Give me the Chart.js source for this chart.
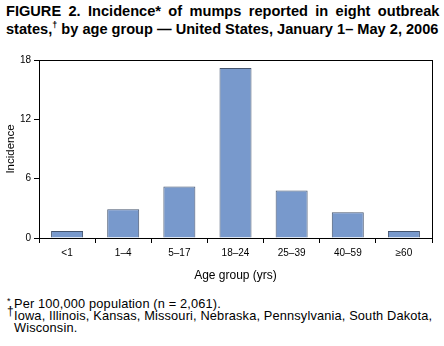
<!DOCTYPE html>
<html lang="en">
<head>
<meta charset="utf-8">
<title>Mumps incidence by age group, 2006</title>
<script src="https://cdn.jsdelivr.net/npm/chart.js@4.4.0/dist/chart.umd.min.js"></script>
<style>
  body{margin:0;width:444px;height:346px;background:#fff;font-family:"Liberation Sans",Arial,Helvetica,sans-serif;color:#000;position:relative;overflow:hidden;}
  #title{position:absolute;left:6px;top:2px;font-weight:bold;font-size:14.6px;line-height:18px;white-space:nowrap;}
  #title .l1{word-spacing:3.3px;}
  #title sup{font-size:9px;line-height:0;}
  #wrap{position:absolute;left:0;top:48px;width:444px;height:240px;}
  .note{position:absolute;left:14px;font-size:12.8px;letter-spacing:0.15px;line-height:12px;white-space:nowrap;}
  .note sup{font-size:9px;position:absolute;left:-7px;top:-3px;}
</style>
</head>
<body>

<div id="title"><span class="l1">FIGURE 2. Incidence* of mumps reported in eight outbreak</span><br>states,<sup>†</sup> by age group — United States, January 1– May 2, 2006</div>

<div id="wrap"><canvas id="chart"></canvas></div>

<div class="note" style="top:298px;"><sup>*</sup>Per 100,000 population (n = 2,061).</div>
<div class="note" style="top:310px;"><sup style="font-size:12px;top:-5px">†</sup>Iowa, Illinois, Kansas, Missouri, Nebraska, Pennsylvania, South Dakota,</div>
<div class="note" style="top:322px;">Wisconsin.</div>

<script>
// age groups and incidence per 100,000
const ageGroups = ['<1', '1–4', '5–17', '18–24', '25–39', '40–59', '≥60'];
const incidence = [0.7, 2.9, 5.2, 17.2, 4.8, 2.6, 0.7];
const yTicks = [0, 6, 12, 18];

// frame around the plot area (top and right sides too)
const boxPlugin = {
  id: 'box',
  afterDraw(chart) {
    const a = chart.chartArea, ctx = chart.ctx;
    ctx.save();
    ctx.strokeStyle = '#000';
    ctx.lineWidth = 1;
    ctx.strokeRect(Math.round(a.left) + 0.5, Math.round(a.top) + 0.5,
                   Math.round(a.right - a.left), Math.round(a.bottom - a.top));
    ctx.restore();
  }
};

const font = {family: '"Liberation Sans", Arial, sans-serif', size: 10};

new Chart(document.getElementById('chart'), {
  type: 'bar',
  data: {
    labels: ageGroups,
    datasets: [{
      data: incidence,
      backgroundColor: '#7899cc',
      borderColor: '#45556f',
      borderWidth: 1,
      borderSkipped: 'bottom',
      categoryPercentage: 1,
      barPercentage: 0.57
    }]
  },
  options: {
    responsive: true,
    maintainAspectRatio: false,
    animation: false,
    layout: {padding: {top: 12, right: 12, left: 0, bottom: 0}},
    plugins: {legend: {display: false}, tooltip: {enabled: false}},
    scales: {
      x: {
        grid: {display: true, drawOnChartArea: false, tickLength: 5, color: '#000'},
        border: {color: '#000'},
        ticks: {color: '#000', font: font, padding: 4, maxRotation: 0},
        title: {display: true, text: 'Age group (yrs)', color: '#000',
                font: {family: font.family, size: 12}, padding: {top: 2, bottom: 5}},
        afterFit(s) { s.height = 50; }
      },
      y: {
        min: 0, max: 18,
        afterBuildTicks(s) { s.ticks = yTicks.map(v => ({value: v})); },
        grid: {display: true, drawOnChartArea: false, tickLength: 5, color: '#000'},
        border: {color: '#000'},
        ticks: {color: '#000', font: font, padding: 3},
        title: {display: true, text: 'Incidence', color: '#000',
                font: {family: font.family, size: 11.5}, padding: {bottom: 2}},
        afterFit(s) { s.width = 39; }
      }
    }
  },
  plugins: [boxPlugin]
});
</script>
</body>
</html>
